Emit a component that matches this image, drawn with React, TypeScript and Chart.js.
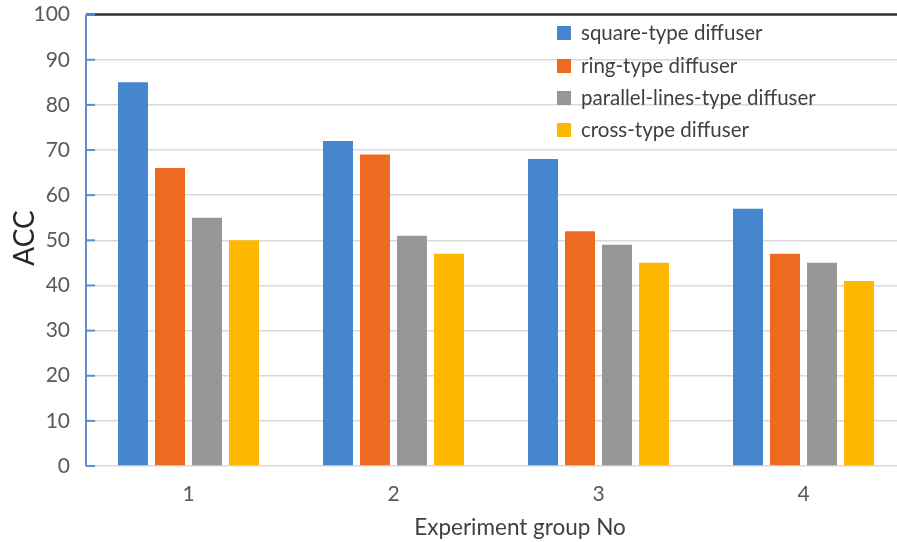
import React, { useEffect, useRef } from "react";
import { Chart, registerables } from "chart.js";

Chart.register(...registerables);

const categories = ["1", "2", "3", "4"];
const seriesNames = [
  "square-type diffuser",
  "ring-type diffuser",
  "parallel-lines-type diffuser",
  "cross-type diffuser",
];
const squareValues = [85, 72, 68, 57];
const ringValues = [66, 69, 52, 47];
const parallelValues = [55, 51, 49, 45];
const crossValues = [50, 47, 45, 41];
const colors = ["#4686cf", "#ee6a20", "#979797", "#ffb800"];
const yMin = 0;
const yMax = 100;
const yStep = 10;
const xTitle = "Experiment group No";
const yTitle = "ACC";

const FONT = "Lato, 'Open Sans', sans-serif";
const OFFSET = 14; // canvas shifted up by this many px

const axisPlugin = {
  id: "customAxis",
  afterDraw(chart: any) {
    const { ctx, chartArea } = chart;
    const y = chart.scales.y;
    ctx.save();
    ctx.strokeStyle = "#333333";
    ctx.lineWidth = 2.5;
    ctx.beginPath();
    ctx.moveTo(chartArea.left, chartArea.top);
    ctx.lineTo(chartArea.right, chartArea.top);
    ctx.stroke();
    ctx.strokeStyle = "#5b8fd0";
    ctx.lineWidth = 2;
    ctx.beginPath();
    ctx.moveTo(chartArea.left, chartArea.top);
    ctx.lineTo(chartArea.left, chartArea.bottom);
    ctx.stroke();
    for (let v = yMin; v <= yMax; v += yStep) {
      const py = y.getPixelForValue(v);
      ctx.beginPath();
      ctx.moveTo(chartArea.left, py);
      ctx.lineTo(chartArea.left + 9, py);
      ctx.stroke();
    }
    // titles
    ctx.fillStyle = "#404040";
    ctx.font = `22.5px ${FONT}`;
    ctx.textAlign = "center";
    ctx.textBaseline = "middle";
    ctx.fillText(xTitle, 520, 528 + OFFSET);
    ctx.save();
    ctx.translate(24, 238 + OFFSET);
    ctx.rotate(-Math.PI / 2);
    ctx.fillStyle = "#262626";
    ctx.font = `28px ${FONT}`;
    ctx.fillText(yTitle, 0, 1);
    ctx.restore();
    ctx.restore();
  },
};

const legendPlugin = {
  id: "customLegend",
  afterDraw(chart: any) {
    const { ctx } = chart;
    ctx.save();
    ctx.font = `20.5px ${FONT}`;
    ctx.textBaseline = "middle";
    ctx.textAlign = "left";
    const x0 = 557;
    const ys = [33, 66, 98, 130];
    seriesNames.forEach((name, i) => {
      const yy = ys[i] + OFFSET;
      ctx.fillStyle = colors[i];
      ctx.fillRect(x0, yy - 7, 14, 14);
      ctx.fillStyle = "#404040";
      ctx.fillText(name, x0 + 24, yy);
    });
    ctx.restore();
  },
};

export default function App() {
  const canvasRef = useRef<HTMLCanvasElement | null>(null);

  useEffect(() => {
    const canvas = canvasRef.current;
    if (!canvas) return;
    const values = [squareValues, ringValues, parallelValues, crossValues];
    const chart = new Chart(canvas, {
      type: "bar",
      data: {
        labels: categories,
        datasets: seriesNames.map((name, i) => ({
          label: name,
          data: values[i],
          backgroundColor: colors[i],
          borderWidth: 0,
          categoryPercentage: 0.722,
          barPercentage: 0.81,
        })),
      },
      options: {
        animation: false,
        responsive: false,
        maintainAspectRatio: false,
        layout: { padding: { top: 2, right: 14, left: 0, bottom: 0 } },
        plugins: {
          legend: { display: false },
          tooltip: { enabled: false },
        },
        scales: {
          x: {
            grid: { display: false, drawTicks: false },
            border: { display: false },
            ticks: {
              color: "#595959",
              font: { family: FONT, size: 21 },
              padding: 16,
            },
            afterFit(scale: any) {
              scale.height = 76;
            },
          },
          y: {
            min: yMin,
            max: yMax,
            ticks: {
              stepSize: yStep,
              color: "#595959",
              font: { family: FONT, size: 21 },
              padding: 16,
            },
            grid: { color: "#d9d9d9", lineWidth: 1.5, drawTicks: false },
            border: { display: false },
            afterFit(scale: any) {
              scale.width = 86;
            },
          },
        },
      },
      plugins: [axisPlugin, legendPlugin],
    });
    return () => chart.destroy();
  }, []);

  return (
    <div
      style={{
        position: "fixed",
        left: 0,
        top: 0,
        width: 897,
        height: 542,
        overflow: "hidden",
        background: "#ffffff",
      }}
    >
      <canvas
        ref={canvasRef}
        width={920}
        height={542 + OFFSET}
        style={{ width: 920, height: 542 + OFFSET, position: "absolute", left: 0, top: -OFFSET }}
      />
    </div>
  );
}
